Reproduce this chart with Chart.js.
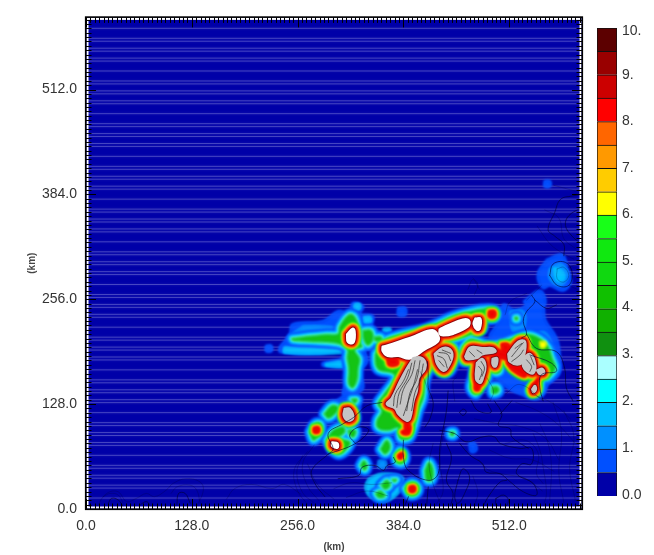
<!DOCTYPE html>
<html><head><meta charset="utf-8">
<script src="https://cdn.jsdelivr.net/npm/chart.js@4"></script>
<style>html,body{margin:0;padding:0;background:#fff;overflow:hidden}canvas{position:absolute;top:0}</style>
</head><body>
<canvas id="map" width="654" height="555" style="left:0"></canvas>
<canvas id="bar" width="64" height="555" style="left:590px"></canvas>
<script>
// ---- axis ticks (km) ----
const axisTicks = [0, 128, 256, 384, 512];
// ---- colour scale ----
const scaleLabels = ["0.0","1.","2.","3.","4.","5.","6.","7.","8.","9.","10."];
const scaleLabelAt = [0.02,1.03,2.03,3.03,4.04,5.02,6.03,7.0,8.01,9.0,9.94];
const scaleColors = ["#0000a8","#0050ff","#0090ff","#00c0ff","#00ffff","#aaffff","#109010","#10b000","#10c000","#10d810","#10e810","#18ff18","#ffff00","#ffcc00","#ff9900","#ff6600","#ff0000","#cc0000","#990000","#5c0000"];
// ---- thin stripes of the field (y in km) ----
const stripeY = [586.7,574.5,570.9,562.4,558.8,550.3,546.7,534.6,522.4,518.8,510.3,506.7,498.2,494.6,482.5,470.3,466.7,458.2,454.6,446.1,442.5,430.4,418.2,414.6,406.1,402.5,394,390.4,378.2,366,362.4,353.9,350.3,341.8,338.2,326.1,313.9,310.3,301.8,298.2,289.7,286.1,274,261.8,258.2,249.7,246.1,237.6,234,221.9,209.7,206.1,197.6,194,185.5,181.9,169.8,157.6,154,145.5,141.9,133.4,129.8,117.6,105.4,101.8,93.3,89.7,81.2,77.6,65.5,53.3,49.7,41.2,37.6,29.1,25.5,13.4,1.2];
// ---- field bands: closed outlines in km, flat x,y lists ----
const level1 = [
 [489,213,499,228,505,249,516,243,526,244,540,253,552,249,555,231,569,208,573,184,572,165,559,153,553,141,543,135,501,156,489,192],
 [235,198,247,213,250,225,287,229,305,241,319,239,323,251,335,247,331,238,347,235,343,220,335,201,340,180,331,169,335,148,323,140,311,140,317,160,313,172,287,175,287,178,311,184,311,193,279,190,235,192],
 [558,304,576,310,582,293,586,277,577,267,561,273,553,270,547,287],
 [530,253,549,266,555,250,540,245],
 [555,400,561,400,561,394,555,394],
 [218,199,224,199,224,193,218,193],
 [378,245,386,245,386,237,378,237],
 [300,130,322,142,330,135,328,115,305,118],
 [464,80,470,80,472,72,466,70]
];
const level2 = [
 [513,241,529,241,529,220,517,217],
 [561,293,574,299,583,286,574,273,561,281],
 [263,223,283,223,304,220,305,214,283,214,259,213,250,213],
 [354,59,362,59,362,51,354,51],
 [534,205,552,216,562,205,566,180,549,190]
];
const level3 = [
 [566,294,576,290,578,281,570,279],
 [240,197,290,198,308,198,318,193,300,190,240,191],
 [290,177,312,180,312,174,290,175],
 [342,37,358,43,382,39,382,25,362,9,344,15,338,27],
 [325,250,331,250,331,244,325,244],
 [336,234,344,234,344,228,336,228],
 [360,220,368,220,368,216,360,216],
 [516,236,524,236,524,229,516,229]
];
const level4 = [
 [249,208,263,210,292,213,305,214,307,223,318,237,325,235,329,223,331,204,334,198,325,195,331,183,329,171,328,158,323,148,318,152,318,171,316,184,316,196,304,202,279,204,250,206],
 [353,192,359,204,374,211,410,220,425,226,444,235,465,241,486,244,497,241,495,232,480,231,480,220,468,214,449,208,432,204,446,198,446,183,440,168,431,166,420,174,416,172,410,156,408,136,402,120,398,104,394,92,390,86,380,86,378,99,365,96,353,99,352,108,358,120,353,128,359,138,374,160,370,166,353,171,350,189],
 [456,198,465,207,485,201,501,202,517,208,534,213,549,208,559,198,564,184,568,172,559,160,552,158,549,144,541,140,535,144,540,158,525,168,511,178,503,184,501,168,495,166,486,172,486,160,474,144,471,140,465,148,468,162,468,178,456,180,453,189],
 [335,218,345,218,347,207,341,200,336,207],
 [349,210,357,210,357,205,349,206],
 [288,116,297,126,305,124,301,116,293,111],
 [311,124,317,126,326,114,324,106,315,104,309,112],
 [321,134,328,134,325,129],
 [271,94,277,104,284,104,283,92,275,84],
 [291,84,299,96,311,100,313,94,305,86,319,82,317,75,307,67,299,71],
 [317,96,326,96,324,88,319,90],
 [356,73,364,84,368,75,362,67],
 [374,65,380,72,386,65,383,56,376,57],
 [332,53,336,59,340,53,337,47],
 [410,47,415,57,420,47,418,35,412,35],
 [357,29,364,35,368,29,362,24],
 [350,19,356,22,362,16,354,14],
 [370,36,376,36,373,33],
 [386,25,394,32,402,27,400,19,392,17],
 [441,94,445,94,445,90,441,90],
 [491,149,498,149,499,143,492,141],
 [519,234,522,234,522,231,519,231]
];
const level6 = [
 [549,204,556,204,556,198,550,197]
];
const level8 = [
 [365,183,375,183,377,177,367,176],
 [488,241,494,241,494,235,488,235],
 [503,201,510,201,512,195,505,193],
 [492,195,510,190,510,184,495,188],
 [548,160,546,158,540,147,543,146],
 [471,156,476,156,475,146,471,146],
 [510,178,528,172,531,162,516,170],
 [388,108,392,100,390,95,386,100],
 [276,99,281,99,281,94,276,94],
 [382,94,390,97,390,92,384,92],
 [378,65,382,68,382,63,379,62],
 [392,27,397,27,397,22,392,22]
];
const overWhite = [
 [316,213,323,220,325,213,323,203,317,204],
 [359,198,370,201,398,211,419,218,426,211,425,204,410,195,392,184,378,187,365,187,359,193],
 [428,219,438,224,456,231,463,230,462,223,444,214,432,212,428,214],
 [471,232,477,232,476,220,473,219,469,226],
 [298,81,304,80,304,75,298,77]
];
const overGrey = [
 [396,184,404,185,410,180,410,171,402,160,400,144,396,132,392,111,388,108,378,116,374,123,364,128,370,135,380,156,388,171],
 [422,189,431,196,440,195,443,186,437,172,432,169,425,177],
 [459,186,465,197,480,196,492,196,495,192,479,189,474,185,461,183],
 [473,178,479,183,483,174,480,160,477,154,472,159],
 [492,183,497,184,497,178,495,174,492,177],
 [511,189,523,204,531,204,529,184,525,177,513,180],
 [529,184,537,189,543,177,541,166,534,168,529,174],
 [546,169,552,171,554,166,549,165],
 [540,146,543,150,544,146,541,143],
 [313,122,319,122,323,111,317,108,312,114]
];
// ---- contours of the grey peaks ----
const peakLines = [
 [398,181,394,164,384,146,380,128],[404,181,400,158,392,142,388,120],[390,170,384,156,374,140,372,126],[408,177,404,156,398,142,394,120],
 [394,178,389,160,379,142,376,124],[401,170,396,150,390,132,384,114],
 [425,187,433,183,437,172],[427,191,437,189,441,181],[427,181,433,174],[431,194,441,190],
 [515,186,523,196,529,203],[515,180,525,188,529,194],[519,196,527,202],[475,174,479,168,476,158],[478,180,482,172,479,162],[464,192,470,186],[473,194,479,190],[533,182,539,174,537,168],[538,186,542,176]
];
// ---- terrain contours ----
const terrainStrong = [
 [289,15,277,31,273,47,293,67,299,73,293,92,311,104,324,112,340,126,358,130],
 [293,67,326,80,342,96,330,100,319,90,326,80],
 [305,37,330,41,334,51,350,53,360,47,364,53,374,57,372,63],
 [384,84,384,63,390,47,414,35,426,43,428,75,436,120,438,144],
 [390,15,386,1,402,5],[414,27,412,3],
 [466,132,474,120,490,118,486,128],
 [428,96,446,92,460,82,480,88,494,88,501,80,525,74,539,74,539,55,527,55,521,43,541,31,545,17,529,21,511,35,501,43,484,45,480,55,464,66,452,80],
 [494,132,503,116,499,102,513,98,515,88,535,74],[515,132,501,116],
 [450,35,456,49,464,39,458,19,450,7,446,15,450,35],
 [480,3,488,17,501,33,509,35],
 [496,13,505,17,511,11,507,3,496,5,496,13],
 [440,1,444,19,436,35,442,63,436,80],
 [452,118,456,122,460,119,456,114,452,118],
 [539,261,543,253,533,241,529,229,533,213,527,209],
 [543,255,557,245,569,249],
 [533,213,545,196,569,192,579,172,581,148,589,132],
 [537,188,563,178,569,168,551,164,549,148,553,132],
 [600,384,588,382,574,378,567,362,559,341,567,333,578,323,578,309],
 [600,368,584,358,580,346,588,333,600,323],
 [561,285,565,299,580,301,588,289,584,273,570,273,561,285],
 [27,7,31,13,39,11,45,3],[61,1,73,9,79,1],[110,5,112,19,120,19,126,7],
 [413,180,414,165,414,148,420,130,416,110,410,100]
];
const terrainFaint = [
 [541,92,549,72,553,51,557,19,553,3],[549,104,559,80,563,51,561,11],[507,80,531,84,547,68,545,43,553,31],
 [507,237,513,253,533,263],[485,160,493,144,489,132],[507,140,525,152,553,132],[416,136,410,156,404,168],[448,160,444,156,446,132],
 [551,273,533,255],[570,293,578,295,584,285,578,277,570,281,570,293],[584,295,600,301],[584,273,600,265],
 [13,3,25,19,39,21,49,9,61,13,73,19,83,15,97,23,105,31,121,37,138,33,142,23,134,3],
 [21,15,29,19,39,17,45,7],[103,19,110,27,126,29,134,23,138,7],
 [170,12,180,25,200,30,225,25,240,30,260,18],
 [262,65,255,45,262,20,275,8],[268,55,280,30,300,12],[420,80,415,55,420,30,428,8],[468,40,474,20,470,5],[578,120,590,90,585,50,592,10],[565,130,575,95,572,45,578,8],
 [268,70,252,48,256,22,268,6],[276,78,262,55,268,28,282,10],[300,25,320,32,345,30,370,32],[315,14,340,22,365,16],
 [434,100,428,60,432,22,424,6],[475,60,486,48,508,42,530,38,552,22],[488,72,512,62,540,60,566,46],[470,110,500,104,528,100,556,86,572,60],
 [520,130,546,120,570,104,592,80],[540,140,566,128,586,110],[555,365,572,355,578,330,592,318],[546,345,560,325,572,315,590,305],[566,395,592,388],[470,262,474,274,468,282],[462,268,468,280,476,268]
];

const pts = (flat, close) => { const a=[]; for(let i=0;i<flat.length;i+=2) a.push({x:flat[i],y:flat[i+1]}); if(close) a.push({x:flat[0],y:flat[1]}); return a; };
const datasets = [];
const add = (polys, fill, stroke, width, close) => polys.forEach(p => datasets.push({
  data: pts(p, close), showLine:true, pointRadius:0, tension:0.4,
  fill: fill ? 'shape' : false, backgroundColor: fill||'transparent', borderColor: stroke||'transparent', borderWidth: width||0,
  borderJoinStyle:'round', borderCapStyle:'round', order:-datasets.length
}));
const stripeData = [];
stripeY.forEach(y => { stripeData.push({x:0,y},{x:600,y},{x:NaN,y:NaN}); });
const addStripes = (alpha) => datasets.push({data:stripeData, showLine:true, pointRadius:0, borderColor:'rgba(170,170,235,'+alpha+')', borderWidth:1, fill:false, order:-datasets.length, spanGaps:false});
addStripes(0.38);
const stripeIndex = 0;
add(level1, '#0050ff', '#0050ff', 3, true);
add(level2, '#0090ff', '#0090ff', 2, true);
add(level3, '#00c0ff', '#00c0ff', 2, true);
add(level4, null, '#0050ff', 12, true);
add(level4, null, '#0090ff', 8.5, true);
add(level4, null, '#00c8ff', 5.5, true);
add(level4, null, '#55ffff', 3, true);
addStripes(0.16);
add(level4, '#14c414', '#14c414', 1, true);
const peaks = overWhite.concat(overGrey);
add(peaks, null, '#18e818', 14, true);
add(level8, null, '#18e818', 10, true);
add(peaks, null, '#ffff00', 11, true);
add(level8, null, '#ffff00', 6, true);
add(peaks, null, '#ff9900', 9.5, true);
add(level8, null, '#ff9900', 4.5, true);
add(peaks, null, '#ee0000', 7.5, true);
add(level8, '#ee0000', '#ee0000', 3, true);
add(level6, '#ffff00', '#ffff00', 1, true);
const lastBlur = datasets.length-1;
add(peaks, null, '#8a0c0c', 4.4, true);
add(overWhite, '#ffffff', '#ffffff', 2.6, true);
add(overGrey, '#c4c4c4', '#c4c4c4', 2.6, true);
add(peakLines, null, 'rgba(40,40,40,0.7)', 1, false);
add(terrainFaint, null, 'rgba(0,0,50,0.3)', 0.8, false);
add(terrainStrong, null, 'rgba(0,0,50,0.6)', 1, false);

const framePlugin = {
  id:'frame',
  beforeDraw(c){ const a=c.chartArea, g=c.ctx; g.save(); g.fillStyle='#0000a8'; g.fillRect(a.left,a.top,a.width,a.height); g.restore(); },
  afterDatasetDraw(c,args){ if(args.index===stripeIndex) c.ctx.filter='blur(1px)'; if(args.index===lastBlur) c.ctx.filter='none'; },
  afterDatasetsDraw(c){
    const a=c.chartArea, g=c.ctx, x=c.scales.x, y=c.scales.y;
    g.save(); g.filter='none';
    g.strokeStyle='#fff'; g.lineWidth=2; g.strokeRect(a.left+1.5,a.top+1.5,a.width-3,a.height-3);
    g.strokeStyle='#000'; g.lineWidth=1; g.beginPath();
    for(let i=0;i*128/24<=600;i++){
      const v=i*128/24, L=(i%24===0)?10:5.5;
      const px=Math.round(x.getPixelForValue(v))+.5, py=Math.round(y.getPixelForValue(v))+.5;
      g.moveTo(px,a.bottom); g.lineTo(px,a.bottom-L); g.moveTo(px,a.top); g.lineTo(px,a.top+L);
      g.moveTo(a.left,py); g.lineTo(a.left+L,py); g.moveTo(a.right,py); g.lineTo(a.right-L,py);
    }
    g.stroke();
    g.lineWidth=1.6; g.strokeRect(a.left-.3,a.top-.3,a.width+.6,a.height+.6);
    g.restore();
  }
};
const tickFont={family:'"Liberation Sans",Arial,sans-serif',size:14};
const titleFont={family:'"Liberation Sans",Arial,sans-serif',size:10,weight:'bold'};
new Chart(document.getElementById('map'),{
  type:'scatter',
  data:{datasets},
  plugins:[framePlugin],
  options:{
    responsive:false, animation:false, events:[],
    layout:{padding:{top:14,right:72,left:0,bottom:0}},
    plugins:{legend:{display:false},tooltip:{enabled:false}},
    scales:{
      x:{type:'linear',min:0,max:600,grid:{display:false,drawTicks:false},border:{display:false},
         afterBuildTicks(s){s.ticks=axisTicks.map(v=>({value:v}));},
         afterFit(s){s.height=46;},
         title:{display:true,text:'(km)',font:titleFont,color:'#444',padding:{top:0,bottom:2}},
         ticks:{font:tickFont,color:'#333',padding:9,maxRotation:0,autoSkip:false,callback:v=>Number(v).toFixed(1)}},
      y:{type:'linear',min:0,max:600,grid:{display:false,drawTicks:false},border:{display:false},
         afterBuildTicks(s){s.ticks=axisTicks.map(v=>({value:v}));},
         afterFit(s){s.width=86;},
         title:{display:true,text:'(km)',font:titleFont,color:'#444',padding:{top:26,bottom:0}},
         ticks:{font:tickFont,color:'#333',padding:9,autoSkip:false,callback:v=>Number(v).toFixed(1)}}
    }
  }
});
new Chart(document.getElementById('bar'),{
  type:'bar',
  data:{labels:[''],datasets:scaleColors.map(c=>({data:[0.5],backgroundColor:c,borderColor:'#111',borderWidth:1,barPercentage:1,categoryPercentage:1}))},
  options:{
    responsive:false, animation:false, events:[],
    layout:{padding:{left:7,top:28,bottom:59,right:0}},
    plugins:{legend:{display:false},tooltip:{enabled:false}},
    scales:{
      x:{stacked:true,display:false},
      y:{stacked:true,position:'right',min:0,max:10,grid:{display:false,drawTicks:false},border:{display:false},
         afterBuildTicks(s){s.ticks=scaleLabelAt.map(v=>({value:v}));},
         afterFit(s){s.width=37;},
         ticks:{font:tickFont,color:'#333',padding:5,autoSkip:false,callback:(v,i)=>scaleLabels[i]}}
    }
  }
});
</script>
</body></html>
